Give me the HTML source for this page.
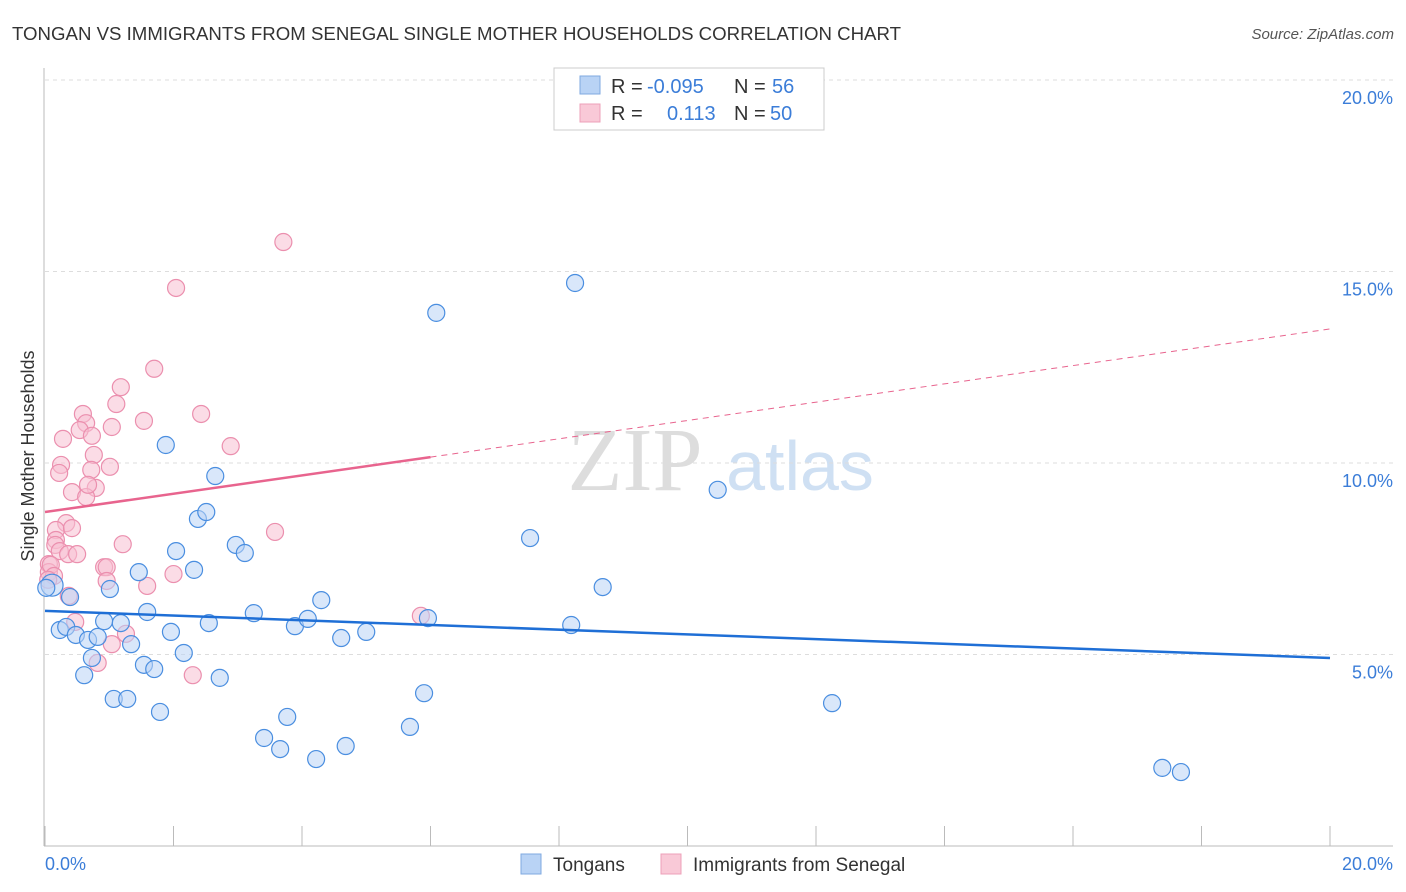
<!DOCTYPE html>
<html><head><meta charset="utf-8"><style>
body{margin:0;background:#fff;font-family:"Liberation Sans",sans-serif;}
svg{display:block}
</style></head><body>
<svg id="chart" width="1406" height="892">
<text x="12" y="40" font-size="18" fill="#333" textLength="889" lengthAdjust="spacingAndGlyphs">TONGAN VS IMMIGRANTS FROM SENEGAL SINGLE MOTHER HOUSEHOLDS CORRELATION CHART</text>
<text x="1394" y="39" font-size="15" fill="#555" font-style="italic" text-anchor="end">Source: ZipAtlas.com</text>
<text x="635" y="490" font-size="90" fill="#ddd" font-family="Liberation Serif" text-anchor="middle">ZIP</text>
<text x="800" y="490" font-size="70" fill="#cfe0f3" text-anchor="middle">atlas</text>
<g id="grid"></g><g id="axes"></g><g id="marks"></g>
<text transform="translate(34,456) rotate(-90)" font-size="18" fill="#333" text-anchor="middle">Single Mother Households</text>
<text x="45" y="870" font-size="18" fill="#3b7dd8">0.0%</text>
<text x="1393" y="870" font-size="18" fill="#3b7dd8" text-anchor="end">20.0%</text>
<g>
<rect x="521" y="854" width="20" height="20" fill="#b9d3f5" stroke="#7fa9e0"/>
<text x="553" y="871" font-size="19" fill="#333">Tongans</text>
<rect x="661" y="854" width="20" height="20" fill="#f9c9d7" stroke="#eda0b8"/>
<text x="693" y="871" font-size="19" fill="#333">Immigrants from Senegal</text>
</g>
<g>
<rect x="554" y="68" width="270" height="62" fill="#fff" stroke="#ccc"/>
<rect x="580" y="76" width="20" height="18" fill="#b9d3f5" stroke="#7fa9e0"/>
<rect x="580" y="104" width="20" height="18" fill="#f9c9d7" stroke="#eda0b8"/>
<text x="611" y="93" font-size="20" fill="#333">R = <tspan x="647" fill="#3b7dd8">-0.095</tspan><tspan x="734">N = </tspan><tspan x="772" fill="#3b7dd8">56</tspan></text>
<text x="611" y="120" font-size="20" fill="#333">R = <tspan x="667" fill="#3b7dd8">0.113</tspan><tspan x="734">N = </tspan><tspan x="770" fill="#3b7dd8">50</tspan></text>
</g>
</svg>
<script>
const tonganX=[0.11,0.39,0.23,0.33,0.48,0.67,0.82,0.92,1.01,1.18,1.34,0.73,0.61,1.07,1.28,1.46,1.59,1.54,1.70,1.96,1.79,1.88,2.04,2.16,2.32,2.38,2.51,2.55,2.65,2.72,2.97,3.11,3.25,3.41,3.66,3.77,3.89,4.09,4.22,4.30,4.61,4.68,5.00,5.68,5.90,5.96,6.09,7.55,8.19,8.25,8.68,10.47,12.25,17.39,17.68,0.02];
const tonganY=[6.81,6.50,5.64,5.72,5.51,5.38,5.46,5.87,6.71,5.82,5.27,4.91,4.46,3.84,3.84,7.15,6.11,4.73,4.62,5.59,3.50,10.47,7.70,5.04,7.21,8.54,8.72,5.82,9.66,4.39,7.86,7.65,6.08,2.82,2.53,3.37,5.74,5.93,2.27,6.42,5.43,2.61,5.59,3.11,3.99,5.95,13.92,8.04,5.77,14.70,6.76,9.30,3.73,2.04,1.93,6.74];
const senegalX=[3.71,2.04,1.7,1.18,1.11,0.59,0.64,0.54,1.04,1.54,2.43,0.28,0.73,0.76,2.89,0.25,0.72,1.01,0.22,0.42,0.79,0.64,0.67,0.33,0.17,0.42,0.17,0.16,0.23,0.36,0.5,1.21,3.58,0.92,0.96,0.96,1.59,2.0,0.06,0.06,0.09,0.37,0.47,1.26,1.04,0.82,2.3,5.85,0.14,0.05];
const senegalY=[15.77,14.57,12.46,11.98,11.54,11.28,11.04,10.86,10.94,11.1,11.28,10.63,10.71,10.21,10.44,9.95,9.82,9.9,9.74,9.24,9.35,9.11,9.43,8.43,8.25,8.3,7.99,7.86,7.7,7.62,7.62,7.88,8.2,7.28,7.28,6.92,6.79,7.1,7.36,7.15,7.34,6.53,5.85,5.54,5.27,4.78,4.46,6.01,7.05,6.95];
const tonganTrend=[6.14,4.91];
const senegalTrend=[8.72,13.5];
const yTicks=[5,10,15,20];
const xTicks=[0,1,2,3,4,5,6,7,8,9,10,11,12,13,14,15,16,17,18,19,20];
const NS="http://www.w3.org/2000/svg";
const X=v=>45+v/20*1285, Y=v=>846-v*38.3;
function mk(tag,attrs,parent){const e=document.createElementNS(NS,tag);for(const k in attrs)e.setAttribute(k,attrs[k]);document.getElementById(parent).appendChild(e);return e;}
yTicks.forEach(t=>{
 const l=mk('line',{x1:45,x2:1393,y1:Y(t),y2:Y(t),stroke:'#ddd','stroke-dasharray':'4,4'},'grid');
 
 
 const tx=mk('text',{x:1393,y:Y(t)+24,'font-size':18,fill:'#3b7dd8','text-anchor':'end'},'grid');
 tx.textContent=t.toFixed(1)+'%';
 
 
});
const ya=mk('line',{x1:44,x2:44,y1:68,y2:846,stroke:'#bbb'},'axes');


const xa=mk('line',{x1:44,x2:1393,y1:846,y2:846,stroke:'#bbb'},'axes');


xTicks.filter(t=>t%2==0).forEach(t=>{
 const l=mk('line',{x1:X(t),x2:X(t),y1:826,y2:846,stroke:'#bbb'},'axes');
 
 
});
function dots(xs,ys,fill,stroke,name){
 xs.forEach((v,i)=>{
  const c=mk('circle',{cx:X(v),cy:Y(ys[i]),r:i==0&&name=='tongan-point'?11:8.5,fill:fill,'fill-opacity':0.55,stroke:stroke,'stroke-width':1.2},'marks');
  
  
 });
}
dots(senegalX,senegalY,'#f7c0d1','#eb8fae','senegal-point');
dots(tonganX,tonganY,'#b9d3f5','#4a8ee0','tongan-point');
const tl=mk('line',{x1:X(0),y1:Y(tonganTrend[0]),x2:X(20),y2:Y(tonganTrend[1]),stroke:'#1f6fd6','stroke-width':2.5},'marks');


const sm=senegalTrend[0]+(senegalTrend[1]-senegalTrend[0])*6/20;
const s1=mk('line',{x1:X(0),y1:Y(senegalTrend[0]),x2:X(6),y2:Y(sm),stroke:'#e8648e','stroke-width':2.5},'marks');


const s2=mk('line',{x1:X(6),y1:Y(sm),x2:X(20),y2:Y(senegalTrend[1]),stroke:'#e8648e','stroke-width':1,'stroke-dasharray':'6,5'},'marks');


</script>
</body></html>
